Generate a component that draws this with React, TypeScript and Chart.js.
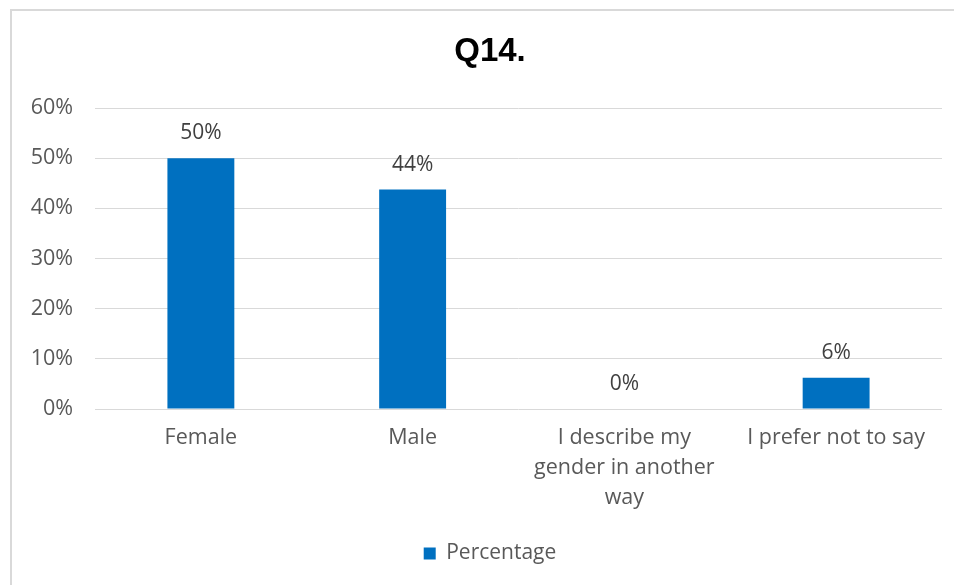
import React, { useEffect, useRef } from "react";
import { Chart, registerables } from "chart.js";

Chart.register(...registerables);

const categories: (string | string[])[] = [
  "Female",
  "Male",
  ["I describe my", "gender in another", "way"],
  "I prefer not to say",
];
const percentages: number[] = [50, 43.75, 0, 6.25];
const seriesName = "Percentage";
const chartTitle = "Q14.";
const yMax = 60;
const yStep = 10;

const FONT = "'Open Sans', 'Liberation Sans', Arial, sans-serif";
const TITLE_FONT = "'Liberation Sans', Arial, sans-serif";

const dataLabelPlugin = {
  id: "dataLabels",
  afterDatasetsDraw(chart: any) {
    const ctx = chart.ctx;
    const meta = chart.getDatasetMeta(0);
    const data = chart.data.datasets[0].data as number[];
    ctx.save();
    ctx.font = `21px ${FONT}`;
    ctx.fillStyle = "#404040";
    ctx.textAlign = "center";
    ctx.textBaseline = "middle";
    meta.data.forEach((el: any, i: number) => {
      ctx.fillText(Math.round(data[i]) + "%", el.x, el.y - 25);
    });
    ctx.restore();
  },
};

export default function App() {
  const ref = useRef<HTMLCanvasElement | null>(null);

  useEffect(() => {
    if (!ref.current) return;
    const chart = new Chart(ref.current, {
      type: "bar",
      data: {
        labels: categories,
        datasets: [
          {
            label: seriesName,
            data: percentages,
            backgroundColor: "#0070C0",
            borderWidth: 0,
            barPercentage: 1,
            categoryPercentage: 0.316,
            yAxisID: "y",
          },
        ],
      },
      options: {
        responsive: false,
        animation: false,
        devicePixelRatio: 1,
        layout: { padding: { top: 0, left: 0, right: 0, bottom: 11 } },
        plugins: {
          tooltip: { enabled: false },
          title: {
            display: true,
            text: chartTitle,
            color: "#000000",
            font: { family: TITLE_FONT, size: 33, weight: "bold", lineHeight: 1.2 },
            padding: { top: 32, bottom: 36.4 },
          },
          legend: {
            display: true,
            position: "bottom",
            labels: {
              boxWidth: 12,
              boxHeight: 12,
              padding: 10,
              color: "#595959",
              font: { family: FONT, size: 21 },
            },
          },
        },
        scales: {
          x: {
            grid: { display: false, drawTicks: false },
            border: { display: false },
            ticks: {
              color: "#595959",
              font: { family: FONT, size: 21.5, lineHeight: "30px" } as any,
              padding: 14,
              maxRotation: 0,
              autoSkip: false,
            },
            afterFit: (s: any) => {
              s.height = 124;
            },
          },
          y: {
            min: 0,
            max: yMax,
            grid: { color: "#d9d9d9", lineWidth: 1, drawTicks: false },
            border: { display: false },
            ticks: {
              stepSize: yStep,
              color: "#595959",
              font: { family: FONT, size: 21.5 },
              padding: 22,
              callback: (v: any) => v + "%",
            },
            afterFit: (s: any) => {
              s.width = 95;
            },
          },
          y2: {
            position: "right",
            display: true,
            grid: { display: false, drawTicks: false },
            border: { display: false },
            ticks: { display: false },
            afterFit: (s: any) => {
              s.width = 38;
            },
          },
        },
      },
      plugins: [dataLabelPlugin],
    });
    return () => chart.destroy();
  }, []);

  return (
    <div
      style={{
        position: "fixed",
        left: 0,
        top: 0,
        width: 954,
        height: 585,
        overflow: "hidden",
        background: "#ffffff",
      }}
    >
      <div
        style={{
          position: "absolute",
          left: 10,
          top: 9,
          width: 2000,
          height: 2000,
          border: "2px solid #d9d9d9",
          boxSizing: "border-box",
        }}
      />
      <canvas
        ref={ref}
        width={980}
        height={585}
        style={{ position: "absolute", left: 0, top: 0, width: 980, height: 585 }}
      />
    </div>
  );
}
